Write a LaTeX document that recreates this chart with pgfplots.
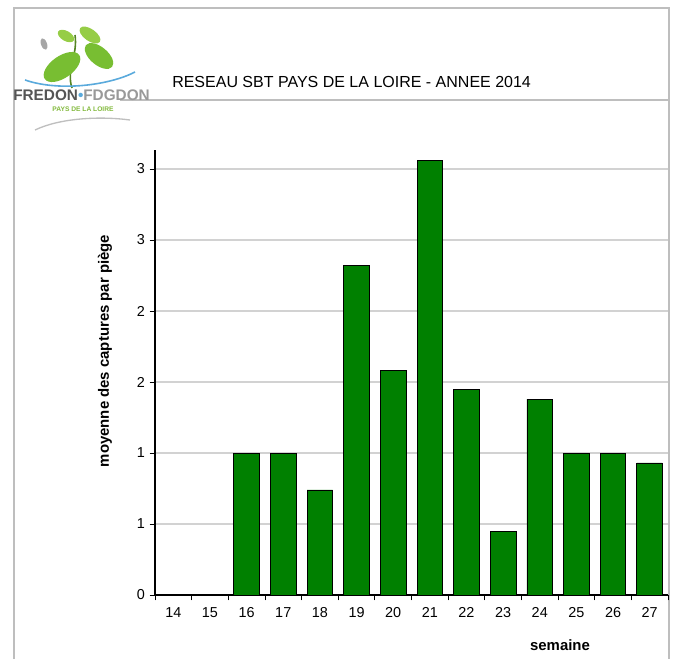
\documentclass[border=0pt]{standalone}
\usepackage{pgfplots}
\pgfplotsset{compat=1.18}
\usepackage{fontspec}
\setmainfont{Liberation Sans}
\definecolor{bargreen}{RGB}{0,128,0}
\definecolor{framegray}{RGB}{190,190,190}
\definecolor{gridgray}{RGB}{210,210,210}
\definecolor{leafA}{RGB}{120,190,50}
\definecolor{leafB}{RGB}{150,205,70}
\definecolor{logoblue}{RGB}{90,170,220}
\definecolor{logogray}{RGB}{85,85,85}
\definecolor{logogreen}{RGB}{130,185,60}
\begin{document}
\begin{tikzpicture}
% bounding box 674x659 px (1px = 0.75pt)
\path (0,0) rectangle (505.5pt,-494.25pt);
\begin{scope}[x=0.75pt,y=-0.75pt]
  % frame
  \draw[framegray,line width=1pt] (14,659) -- (14,8) -- (669,8) -- (669,659);
  \draw[framegray,line width=0.8pt] (120,100) -- (669,100);
  % logo
  \draw[leafA!70!black,line width=1.2pt] (72,88) .. controls (66,70) and (78,55) .. (75,35);
  \fill[leafA] (62,67) ellipse [x radius=21, y radius=11, rotate=35];
  \fill[leafB] (66,36) ellipse [x radius=9, y radius=5, rotate=-30];
  \fill[leafB] (90,35) ellipse [x radius=12, y radius=6, rotate=-35];
  \fill[leafA] (99,56) ellipse [x radius=17, y radius=9, rotate=-40];
  \fill[gray!70] (44,44) ellipse [x radius=3, y radius=6, rotate=20];
  \draw[logoblue,line width=1.2pt] (25,80) .. controls (60,92) and (110,85) .. (135,72);
  \node[anchor=west,inner sep=0pt,font=\bfseries\fontsize{11.5}{12}\selectfont] at (13,95)
    {\textcolor{logogray}{FREDON}\textcolor{logoblue}{•}\textcolor{logogray!60}{FDGDON}};
  \node[inner sep=0pt,font=\bfseries\fontsize{5}{6}\selectfont,text=logogreen] at (83,109) {PAYS DE LA LOIRE};
  \draw[gray!50,line width=1pt] (35,130) .. controls (60,118) and (100,116) .. (130,120);
  % title
  \node[anchor=west,inner sep=0pt,font=\fontsize{12}{14}\selectfont] at (172,82)
    {RESEAU SBT PAYS DE LA LOIRE - ANNEE 2014};
  % axis labels
  \node[rotate=90,inner sep=0pt,font=\bfseries\fontsize{11.2}{13}\selectfont] at (105,351)
    {moyenne des captures par piège};
  \node[inner sep=0pt,font=\bfseries\fontsize{11.2}{13}\selectfont] at (560,645) {semaine};
\end{scope}
\begin{axis}[
  at={(116.25pt,-446.25pt)}, anchor=south west,
  scale only axis, width=384.75pt, height=333.75pt,
  xmin=13.5, xmax=27.5, ymin=0, ymax=3.134,
  axis x line*=bottom, axis y line*=left,
  axis line style={black, line width=0.8pt, -},
  xtick={14,...,27},
  xticklabels={14,15,16,17,18,19,20,21,22,23,24,25,26,27},
  major x tick style={draw=none},
  minor xtick={13.5,14.5,...,27.5},
  minor tick length=4pt,
  minor x tick style={black, line width=0.6pt},
  ytick={0,0.5,1,1.5,2,2.5,3},
  yticklabels={0,1,1,2,2,3,3},
  major tick length=4pt,
  major y tick style={black, line width=0.6pt},
  tick align=outside,
  ymajorgrids,
  grid style={gridgray, line width=0.8pt},
  tick label style={font=\fontsize{10.8}{12}\selectfont},
  xticklabel style={yshift=-2pt},
  /pgf/number format/assume math mode=true,
]
\addplot[ybar, bar width=19.2pt, fill=bargreen, draw=black, line width=0.6pt]
  coordinates {
    (16,1.0) (17,1.0) (18,0.74) (19,2.32) (20,1.58)
    (21,3.06) (22,1.45) (23,0.45) (24,1.38) (25,1.0) (26,1.0) (27,0.93)
  };
\addplot[ybar, bar width=19.2pt, draw=none, fill=none] coordinates {(14,0) (15,0)};
\end{axis}
\end{tikzpicture}
\end{document}
